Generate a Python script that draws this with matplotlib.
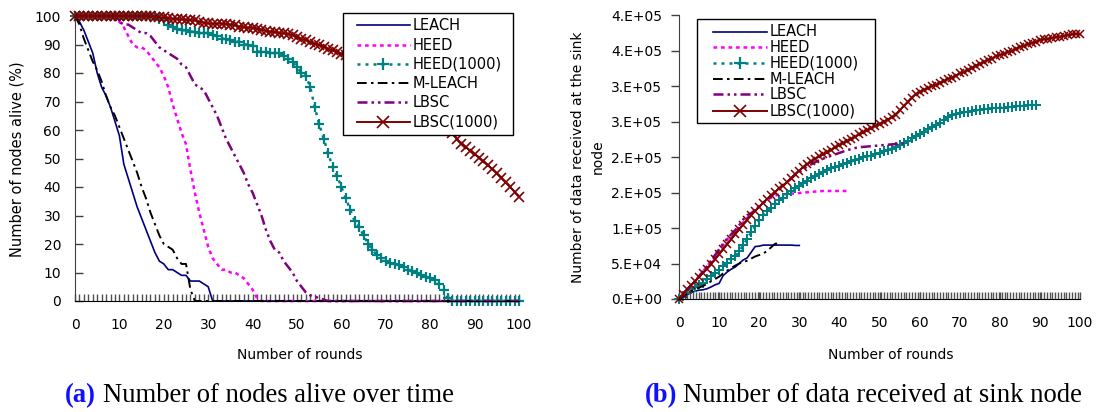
import matplotlib
matplotlib.use("Agg")
import matplotlib.pyplot as plt
from matplotlib.lines import Line2D
from matplotlib.patches import Rectangle
from matplotlib.ticker import MultipleLocator, FixedLocator, FixedFormatter

plt.rcParams['font.family'] = ['DejaVu Sans']

# ---------------- data: (a) nodes alive (%) ----------------
rounds_a = list(range(0, 101))
leach_alive = [100, 98, 95, 91, 87, 80, 75, 72, 68, 63, 58, 48, 43, 38, 33, 29, 25, 21, 17, 14,
               13, 11, 11, 10, 9, 9, 7, 7, 7, 6, 5, 0, 0, 0, 0, 0, 0, 0, 0, 0,
               0, 0, 0, 0, 0, 0, 0, 0, 0, 0, 0, 0, 0, 0, 0, 0, 0, 0, 0, 0,
               0, 0, 0, 0, 0, 0, 0, 0, 0, 0, 0, 0, 0, 0, 0, 0, 0, 0, 0, 0,
               0, 0, 0, 0, 0, 0, 0, 0, 0, 0, 0, 0, 0, 0, 0, 0, 0, 0, 0, 0, 0]
heed_alive = [100, 100, 100, 100, 100, 100, 100, 100, 100, 99, 98, 96, 93, 90, 89, 89, 88, 86, 84, 82,
              79, 75, 69, 64, 59, 55, 46, 38, 31, 25, 19, 15, 13, 11, 11, 10, 10, 9, 8, 6,
              4, 1, 0, 0, 0, 0, 0, 0, 0, 0, 0, 0, 0, 0, 0, 0, 0, 0, 0, 0,
              0, 0, 0, 0, 0, 0, 0, 0, 0, 0, 0, 0, 0, 0, 0, 0, 0, 0, 0, 0,
              0, 0, 0, 0, 0, 0, 0, 0, 0, 0, 0, 0, 0, 0, 0, 0, 0, 0, 0, 0, 0]
heed1000_alive = [100, 100, 100, 100, 100, 100, 100, 100, 100, 100, 100, 100, 100, 100, 100, 100, 100, 100, 100, 99,
                  98.5, 97, 96, 95.5, 95, 95, 94.5, 94.5, 94, 94, 94, 93.5, 93, 92, 92, 91.5, 91, 91, 90, 90,
                  89.5, 87.5, 87.5, 87.5, 87, 87, 87, 86, 85, 84, 82, 80, 79, 75, 68, 62, 57, 52, 47, 44,
                  40, 36, 32, 28, 26, 23, 20, 18, 16, 15, 14, 13.5, 13, 12.5, 12, 11, 10.5, 10, 9, 8.5,
                  8, 7.5, 6, 4, 1, 0, 0, 0, 0, 0, 0, 0, 0, 0, 0, 0, 0, 0, 0, 0, 0]
mleach_alive = [100, 97, 92, 88, 84, 81, 77, 72, 68, 65, 61, 57, 53, 49, 45, 40, 36, 31, 27, 23,
                20, 19, 18, 15, 13, 13, 4, 0, 0, 0, 0, 0, 0, 0, 0, 0, 0, 0, 0, 0,
                0, 0, 0, 0, 0, 0, 0, 0, 0, 0, 0, 0, 0, 0, 0, 0, 0, 0, 0, 0,
                0, 0, 0, 0, 0, 0, 0, 0, 0, 0, 0, 0, 0, 0, 0, 0, 0, 0, 0, 0,
                0, 0, 0, 0, 0, 0, 0, 0, 0, 0, 0, 0, 0, 0, 0, 0, 0, 0, 0, 0, 0]
lbsc_alive = [100, 100, 100, 100, 100, 100, 100, 100, 100, 99, 98, 97, 97, 96, 95, 94, 94, 93, 91, 89,
              88, 87, 86, 85, 83, 82, 79, 76, 75, 74, 71, 68, 65, 61, 57, 54, 51, 48, 45, 41,
              38, 34, 30, 25, 21, 18, 17, 14, 12, 10, 7, 5, 3, 2, 1.5, 1, 0.5, 0, 0, 0,
              0, 0, 0, 0, 0, 0, 0, 0, 0, 0, 0, 0, 0, 0, 0, 0, 0, 0, 0, 0,
              0, 0, 0, 0, 0, 0, 0, 0, 0, 0, 0, 0, 0, 0, 0, 0, 0, 0, 0, 0, 0]
lbsc1000_alive = [100, 100, 100, 100, 100, 100, 100, 100, 100, 100, 100, 100, 100, 100, 100, 100, 100, 99.9, 99.8, 99.6,
                  99.5, 99.3, 99, 99, 98.8, 98.7, 98.6, 98.5, 98, 97.7, 97.4, 97.3, 97.3, 97.3, 97.2, 97, 96.7, 96.3, 96, 95.9,
                  95.8, 95.6, 95.2, 94.8, 94.5, 94.3, 94.1, 93.9, 93.7, 93.2, 92.6, 92, 91.5, 90.8, 90.3, 89.8, 89.2, 88.5, 87.9, 87.3,
                  86.8, 86.2, 85.6, 85, 84.3, 83.5, 82.7, 81.9, 81, 80, 79, 78, 77, 76, 75, 73.8, 72.6, 71.4, 70.1, 68.7,
                  67.3, 65.8, 64.2, 62.5, 60.7, 58.8, 56.8, 55.2, 54, 52.8, 51.5, 50.3, 49, 47.6, 46.2, 44.8, 43.2, 41.6, 40, 38.3, 36.6]

# ---------------- data: (b) data received at sink ----------------
leach_data = [0, 2000, 6000, 9000, 11000, 12500, 13000, 14500, 17000, 20000, 22000, 33000, 38000, 42000, 45000,
              50000, 55000, 58000, 66000, 74000, 74500, 76000, 76000, 76000, 76000, 76000, 76000, 76000, 76000,
              75500, 75500]
heed_data = [0, 6000, 12000, 18000, 25000, 32000, 39000, 46000, 53000, 61000, 69000, 76000, 84000, 90000, 95000,
             101000, 108000, 114000, 120000, 126000, 131000, 136000, 140000, 143000, 146000, 147000, 147500, 148000,
             148500, 149000, 149500, 150000, 150500, 151000, 151500, 152000, 152300, 152300, 152300, 152300, 152300,
             152300, 152300]
heed1000_data = [0, 4000, 9000, 14000, 17000, 20000, 23000, 28000, 33000, 37000, 41000, 46000, 51000, 56000, 60000,
                 67000, 76000, 85000, 94000, 103000, 111000, 118000, 124000, 129000, 134000, 139000, 143000, 148000,
                 152000, 156000, 160000, 164000, 167000, 170000, 173000, 176000, 179000, 182000, 184000, 186000,
                 188000, 190000, 192000, 194000, 196000, 198000, 200000, 201000, 202000, 204000, 206000, 208000,
                 210000, 212000, 214000, 217000, 220000, 223000, 227000, 230000, 233000, 236000, 239000, 242000,
                 245000, 248000, 252000, 256000, 259000, 261000, 262000, 263000, 264000, 265000, 266000, 267000,
                 268000, 268500, 269000, 269500, 270000, 270000, 270500, 271000, 271500, 272000, 272500, 273000,
                 273500, 273500]
mleach_data = [0, 3000, 7000, 11000, 14000, 16000, 18500, 21000, 25000, 28000, 31500, 36000, 40000, 44000, 47000,
               50000, 52000, 54000, 57000, 60000, 62000, 64000, 68000, 73000, 78000, 78500]
lbsc_data = [0, 6000, 12000, 18000, 25000, 32000, 39000, 46000, 54000, 62000, 70000, 78000, 85000, 91000, 97000,
             104000, 112000, 118000, 121000, 125000, 130000, 135000, 140000, 145000, 150000, 155000, 160000, 165000,
             170000, 175000, 179000, 183000, 187000, 190000, 193000, 196000, 198000, 200000, 202000, 204000, 206000,
             208000, 210000, 211500, 213000, 214000, 214500, 215000, 215500, 216000, 216500, 217000, 217500, 218000,
             218500, 219000, 219500]
lbsc1000_data = [0, 7000, 14000, 20000, 25000, 31000, 37000, 43000, 49000, 56000, 63000, 70000, 77000, 84000, 91000,
                 98000, 105000, 112000, 118000, 124000, 130000, 136000, 141000, 146000, 151000, 156000, 160000, 165000,
                 170000, 176000, 181000, 186000, 190000, 194000, 198000, 201000, 204000, 207000, 210000, 214000,
                 217000, 220000, 223000, 226000, 229000, 232000, 235000, 238000, 241000, 244000, 247000, 250000,
                 253000, 256000, 260000, 266000, 272000, 278000, 284000, 289000, 292000, 295000, 297000, 300000,
                 302000, 305000, 307000, 310000, 312000, 315000, 318000, 320000, 323000, 326000, 329000, 332000,
                 334000, 337000, 339000, 342000, 344000, 346000, 348000, 350000, 353000, 355000, 357000, 359000,
                 361000, 363000, 365000, 366000, 367000, 368000, 369000, 370000, 371000, 372000, 373000, 374000,
                 373000]

x_ticks = [0, 10, 20, 30, 40, 50, 60, 70, 80, 90, 100]
y_ticks_a = [0, 10, 20, 30, 40, 50, 60, 70, 80, 90, 100]
y_ticks_b = [0, 50000, 100000, 150000, 200000, 250000, 300000, 350000, 400000]
y_labels_b = ['0.E+00', '5.E+04', '1.E+05', '2.E+05', '2.E+05', '3.E+05', '3.E+05', '4.E+05', '4.E+05']
labels = ['LEACH', 'HEED', 'HEED(1000)', 'M-LEACH', 'LBSC', 'LBSC(1000)']

# ---------------- styles ----------------
styles = {
    'LEACH': dict(color='#000080', lw=1.2, ls='-'),
    'HEED': dict(color='#FF00FF', lw=1.8, ls=(0, (1.5, 1.5))),
    'HEED(1000)': dict(color='#008080', lw=1.8, ls=(0, (1.2, 2.0)), marker='+', ms=7, mew=1.6),
    'M-LEACH': dict(color='#000000', lw=1.4, ls=(0, (5, 2.2, 1.3, 2.2))),
    'LBSC': dict(color='#800080', lw=1.8, ls=(0, (4, 1.6, 1.0, 1.6, 1.0, 1.6))),
    'LBSC(1000)': dict(color='#800000', lw=1.4, ls='-', marker='x', ms=7, mew=1.2),
}
right_ms = {'HEED(1000)': 6.5, 'LBSC(1000)': 6}

W, H = 1099, 412
fig = plt.figure(figsize=(W / 100, H / 100), dpi=100)


def fx(p):
    return p / W


def fy(p):
    return 1 - p / H


ax1 = fig.add_axes([fx(75), fy(301), (519 - 75) / W, (301 - 16) / H])
ax2 = fig.add_axes([fx(679), fy(299), (1080 - 679) / W, (299 - 15.3) / H])

series_a = [leach_alive, heed_alive, heed1000_alive, mleach_alive, lbsc_alive, lbsc1000_alive]
series_b = [leach_data, heed_data, heed1000_data, mleach_data, lbsc_data, lbsc1000_data]

for lab, ys in zip(labels, series_a):
    s = styles[lab]
    ax1.plot(rounds_a[:len(ys)], ys, color=s['color'], lw=s['lw'], ls=s['ls'],
             marker=s.get('marker', None), ms=s.get('ms', 0), mew=s.get('mew', 0),
             clip_on=False, zorder=3)

for lab, ys in zip(labels, series_b):
    s = styles[lab]
    ax2.plot(rounds_a[:len(ys)], ys, color=s['color'], lw=s['lw'], ls=s['ls'],
             marker=s.get('marker', None), ms=right_ms.get(lab, 0), mew=s.get('mew', 0) * 0.9,
             clip_on=False, zorder=3)

for ax in (ax1, ax2):
    ax.set_xlim(0, 100)
    for sp in ('top', 'right'):
        ax.spines[sp].set_visible(False)
    ax.spines['bottom'].set_color('#000000')
    ax.spines['left'].set_color('#404040')
    ax.spines['bottom'].set_zorder(4)
    ax.xaxis.set_major_locator(FixedLocator(x_ticks))
    ax.tick_params(axis='x', which='both', direction='in', length=5, width=1,
                   color='#505050', labelsize=10, pad=12)
    ax.tick_params(axis='y', labelsize=10)

ax1.xaxis.set_minor_locator(MultipleLocator(1))
ax2.xaxis.set_minor_locator(MultipleLocator(0.7))

ax1.set_ylim(0, 100)
ax1.yaxis.set_major_locator(FixedLocator(y_ticks_a))
ax1.tick_params(axis='y', direction='in', length=6, width=1, color='#404040', pad=10)

ax2.set_ylim(0, 400000)
ax2.yaxis.set_major_locator(FixedLocator(y_ticks_b))
ax2.yaxis.set_major_formatter(FixedFormatter(y_labels_b))
ax2.tick_params(axis='y', direction='out', length=6, width=1, color='#404040', pad=6)

# axis titles
fig.text(fx(300), fy(355), 'Number of rounds', ha='center', va='center', fontsize=10)
fig.text(fx(891), fy(355), 'Number of rounds', ha='center', va='center', fontsize=10)
fig.text(fx(17), fy(159), 'Number of nodes alive (%)', rotation=90, ha='center', va='center', fontsize=10.5)
fig.text(fx(588), fy(157), 'Number of data received at the sink\nnode', rotation=90, ha='center',
         va='center', fontsize=10, multialignment='center', linespacing=1.55)

# captions
cap_font = 'Liberation Serif'
cap_fs = 19.2
fig.text(fx(65), fy(396), '(a)', ha='left', va='center', fontsize=cap_fs, fontweight='bold',
         color='#1010FF', family=cap_font)
fig.text(fx(103), fy(396), 'Number of nodes alive over time', ha='left', va='center', fontsize=cap_fs,
         color='black', family=cap_font)
fig.text(fx(645), fy(396), '(b)', ha='left', va='center', fontsize=cap_fs, fontweight='bold',
         color='#1010FF', family=cap_font)
fig.text(fx(683), fy(396), 'Number of data received at sink node', ha='left', va='center', fontsize=cap_fs,
         color='black', family=cap_font)


# legends (drawn in figure pixel coordinates)
def draw_legend(box, hx0, hx1, tx, rows, fs):
    x0, y0, x1, y1 = box
    fig.add_artist(Rectangle((fx(x0), fy(y1)), (x1 - x0) / W, (y1 - y0) / H, transform=fig.transFigure,
                             facecolor='white', edgecolor='black', lw=1.0, zorder=10))
    for lab, y in zip(labels, rows):
        s = styles[lab]
        fig.add_artist(Line2D([fx(hx0), fx(hx1)], [fy(y), fy(y)], transform=fig.transFigure,
                              color=s['color'], lw=s['lw'], ls=s['ls'], zorder=11))
        if 'marker' in s:
            fig.add_artist(Line2D([fx((hx0 + hx1) / 2)], [fy(y)], transform=fig.transFigure, ls='none',
                                  color=s['color'], marker=s['marker'], ms=s['ms'] + 1,
                                  mew=s['mew'], zorder=12))
        fig.text(fx(tx), fy(y), lab, ha='left', va='center', fontsize=fs, zorder=12)


draw_legend((343.3, 13.3, 513.3, 135), 356.7, 410, 413, [25, 45, 64, 83.3, 102.3, 121.7], 10.5)
draw_legend((696.7, 19.3, 875, 123.3), 713, 767, 770, [31.7, 47.3, 62.7, 79, 94.3, 110.7], 10.5)

fig.savefig('out.png', dpi=100)
